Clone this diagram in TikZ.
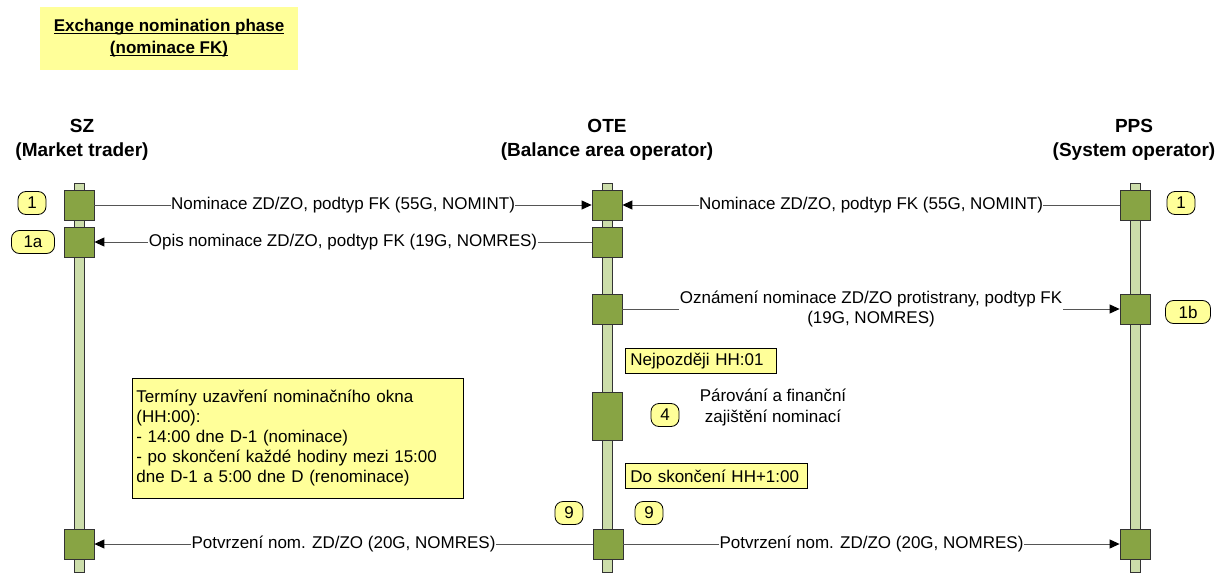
\documentclass[tikz,border=0pt]{standalone}
\usepackage{fontspec}
\setmainfont{Liberation Sans}
\usetikzlibrary{arrows.meta}
\definecolor{noteyel}{HTML}{FFFF99}
\definecolor{actgreen}{HTML}{88A444}
\definecolor{barg}{HTML}{CCDDAA}
\definecolor{linegray}{HTML}{555555}
\newsavebox{\myulbox}
\newcommand{\myuline}[1]{\sbox{\myulbox}{#1}\rlap{\rule[-2.6pt]{\wd\myulbox}{1.1pt}}\usebox{\myulbox}}
\tikzset{
 every node/.style={font=\fontsize{17}{19.5}\selectfont},
 act/.style={draw=black!80, fill=actgreen, minimum width=30pt, minimum height=30pt, inner sep=0pt, line width=0.8pt},
 lifebar/.style={draw=black!80, fill=barg, minimum width=10pt, inner sep=0pt, line width=0.8pt},
 msg/.style={draw=linegray, line width=0.9pt},
 arr/.style={-{Triangle[length=10pt,width=9pt,color=black]}},
 lbl/.style={fill=white, inner xsep=0.5pt, inner ysep=1pt},
 tag/.style={draw=black, fill=noteyel, rounded corners=8pt, minimum height=23pt, minimum width=28pt, inner sep=2pt, line width=0.8pt},
 ybox/.style={draw=black, fill=noteyel, inner xsep=5pt, inner ysep=3pt, anchor=north west, align=left, line width=0.8pt},
 head/.style={font=\fontsize{19}{24}\selectfont\bfseries, align=center},
}
\begin{document}
\begin{tikzpicture}[x=1pt,y=-1pt]
\useasboundingbox (0,0) rectangle (1228,575);
% title
\node[fill=noteyel, minimum width=258pt, minimum height=63pt, inner sep=0pt,
      font=\fontsize{17}{22}\selectfont\bfseries, align=center] (title) at (169,38.5)
      {\myuline{Exchange nomination phase}\\\myuline{(nominace FK)}};
% headers
\node[head] (hsz) at (82,140) {SZ\\(Market trader)};
\node[head] (hote) at (607,140) {OTE\\(Balance area operator)};
\node[head] (hpps) at (1134,140) {PPS\\(System operator)};
% lifelines
\node[lifebar, minimum height=389pt] (szbar) at (79,377.5) {};
\node[lifebar, minimum height=389pt] (otebar) at (607,377.5) {};
\node[lifebar, minimum height=389pt] (ppsbar) at (1135,377.5) {};
% activation boxes
\node[act] (sz1) at (79,205) {};
\node[act] (ote1) at (607,205) {};
\node[act] (pps1) at (1135,205) {};
\node[act] (sz1a) at (79,242) {};
\node[act] (ote1a) at (607,242) {};
\node[act] (ote1b) at (607,309) {};
\node[act] (pps1b) at (1135,309) {};
\node[act, minimum height=48pt] (ote4) at (607,416) {};
\node[act] (sz9) at (79,544) {};
\node[act] (ote9) at (608,544) {};
\node[act] (pps9) at (1135,544) {};
% messages
\draw[msg,arr] (sz1.east) -- node[lbl]{Nominace ZD/ZO, podtyp FK (55G, NOMINT)} (ote1.west);
\draw[msg,arr] (pps1.west) -- node[lbl]{Nominace ZD/ZO, podtyp FK (55G, NOMINT)} (ote1.east);
\draw[msg,arr] (ote1a.west) -- node[lbl]{Opis nominace ZD/ZO, podtyp FK (19G, NOMRES)} (sz1a.east);
\draw[msg,arr] (ote1b.east) -- node[lbl, align=center]{Oznámení nominace ZD/ZO protistrany, podtyp FK\\(19G, NOMRES)} (pps1b.west);
\draw[msg,arr] (ote9.west) -- node[lbl]{Potvrzení nom. ZD/ZO (20G, NOMRES)} (sz9.east);
\draw[msg,arr] (ote9.east) -- node[lbl]{Potvrzení nom. ZD/ZO (20G, NOMRES)} (pps9.west);
% tags
\node[tag] (t1l) at (32,203) {1};
\node[tag, minimum width=43pt] (t1a) at (33,242) {1a};
\node[tag] (t1r) at (1181,203) {1};
\node[tag, minimum width=45pt] (t1b) at (1188,312) {1b};
\node[tag] (t4) at (665,415) {4};
\node[tag] (t9a) at (569,513) {9};
\node[tag] (t9b) at (649,513) {9};
% notes
\node[ybox, text width=141pt, minimum height=25pt] (late) at (625,348) {Nejpozději HH:01};
\node[ybox, text width=172pt, minimum height=25pt] (until) at (625,463) {Do skončení HH+1:00};
\node[ybox, inner xsep=4pt, text width=323pt, minimum height=120pt, font=\fontsize{17}{20}\selectfont] (terms) at (132,378)
 {Termíny uzavření nominačního okna\\(HH:00):\\- 14:00 dne D-1 (nominace)\\- po skončení každé hodiny mezi 15:00\\dne D-1 a 5:00 dne D (renominace)};
\node[align=center, font=\fontsize{17}{21}\selectfont] (pair) at (773,408) {Párování a finanční\\zajištění nominací};
\end{tikzpicture}
\end{document}
